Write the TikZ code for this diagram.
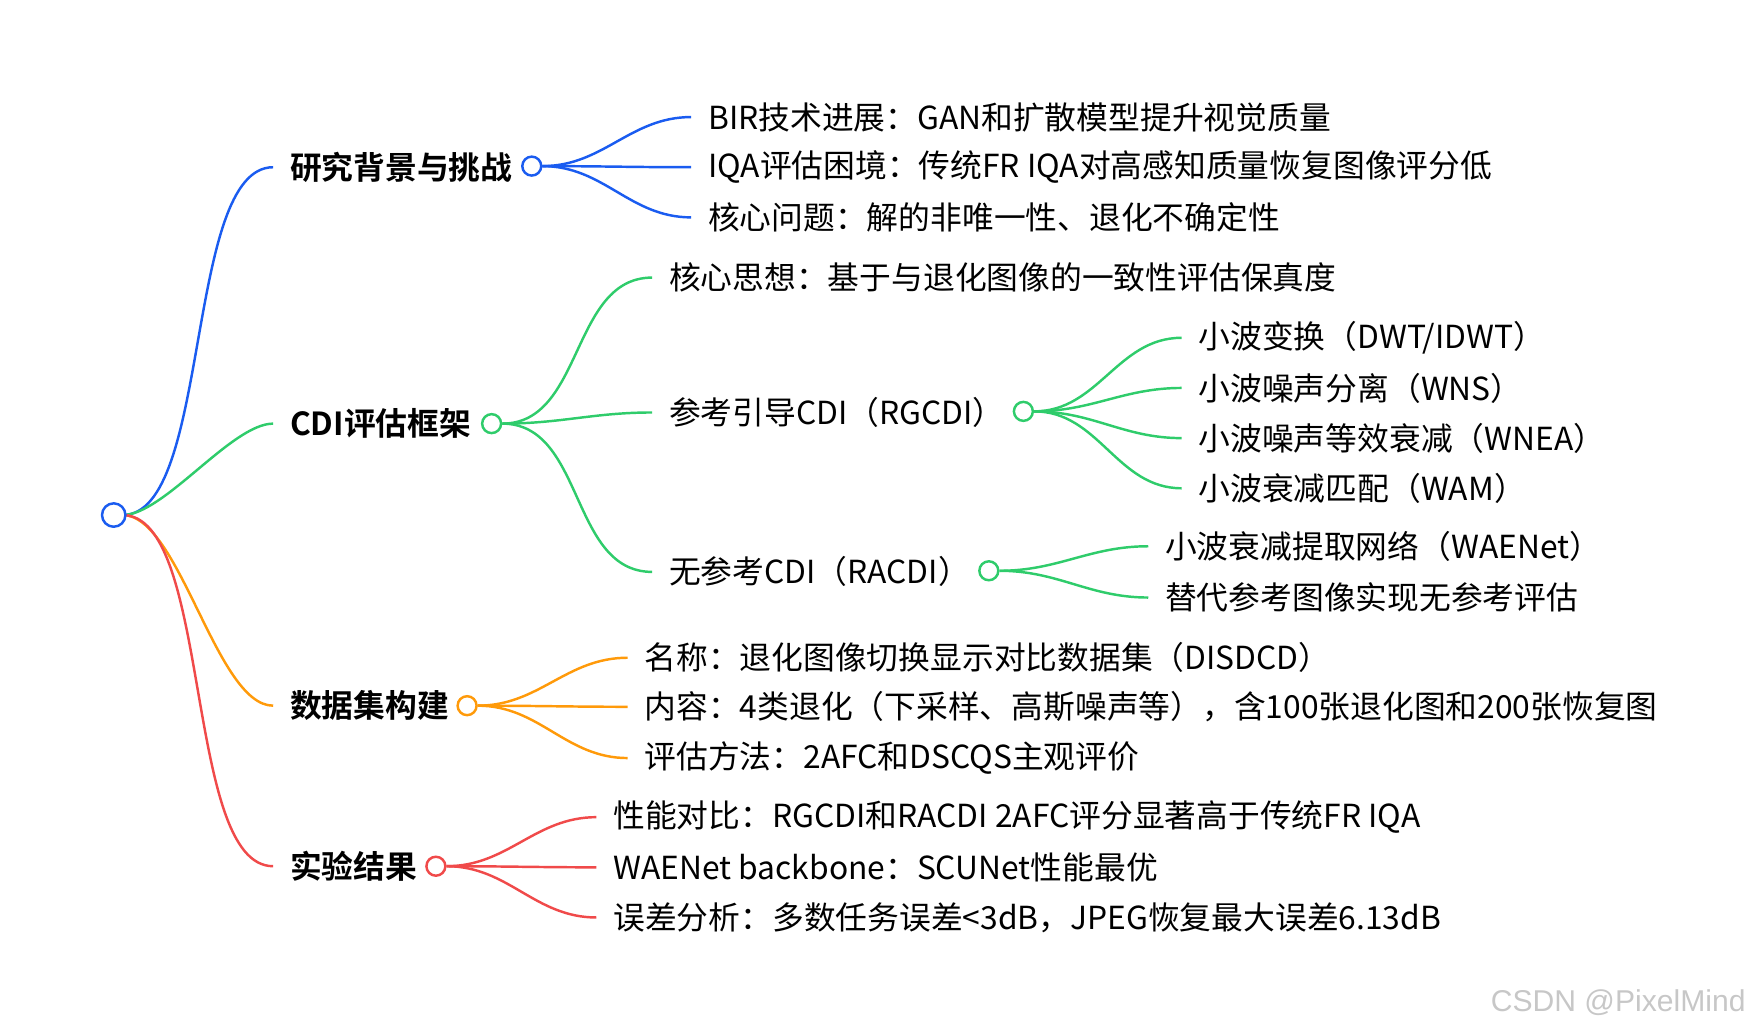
\documentclass[tikz,border=0pt]{standalone}
\usepackage{fontspec}
\setmainfont{Noto Sans CJK SC}[BoldFont=Noto Sans CJK SC Bold]
\newfontfamily\markfont{Liberation Sans}
\definecolor{cblue}{HTML}{1A5CF0}
\definecolor{cgreen}{HTML}{2FCC6B}
\definecolor{corange}{HTML}{FF9A0A}
\definecolor{cred}{HTML}{F04A4A}
\tikzset{
  knot/.style={draw=#1, circle, fill=white, line width=2.2pt, inner sep=0pt, minimum size=17pt},
  leaf/.style={anchor=west, inner xsep=15pt, inner ysep=0pt, font=\fontsize{28.5}{32}\selectfont},
  topic/.style={leaf, font=\fontsize{28.5}{32}\selectfont\bfseries},
  link/.style={line width=2.2pt, out=0, in=180},
  trunk/.style={link, looseness=0.6},
}
\begin{document}
\begin{tikzpicture}[x=1pt, y=-1pt]
  \useasboundingbox (0,0) rectangle (1568,926);
  % first level
  \node (t1) [topic] at (245,150) {研究背景与挑战};
  \node (t2) [topic] at (245,380) {CDI评估框架};
  \node (t3) [topic] at (245,633) {数据集构建};
  \node (t4) [topic] at (245,777) {实验结果};
  \coordinate (hub) at (110,462);
  \draw [trunk, cblue] (hub) to (t1.west);
  \draw [trunk, cgreen] (hub) to (t2.west);
  \draw [trunk, corange] (hub) to (t3.west);
  \draw [trunk, cred] (hub) to (t4.west);
  \node (root) [knot=cblue, minimum size=21pt] at (102,462) {};
  % background
  \node (b1) [leaf] at (620,105) {BIR技术进展：GAN和扩散模型提升视觉质量};
  \node (b2) [leaf] at (620,150) {IQA评估困境：传统FR IQA对高感知质量恢复图像评分低};
  \node (b3) [leaf] at (620,195) {核心问题：解的非唯一性、退化不确定性};
  \node (k1) [knot=cblue] at (477,149) {};
  \foreach \b in {b1,b2,b3}
    \draw [link, cblue] (k1.east) to (\b.west);
  % framework
  \node (f1) [leaf] at (585,249) {核心思想：基于与退化图像的一致性评估保真度};
  \node (f2) [leaf] at (585,370) {参考引导CDI（RGCDI）};
  \node (f3) [leaf] at (585,513) {无参考CDI（RACDI）};
  \node (k2) [knot=cgreen] at (441,380) {};
  \foreach \f in {f1,f2,f3}
    \draw [link, cgreen] (k2.east) to (\f.west);
  \node (g1) [leaf] at (1060,303) {小波变换（DWT/IDWT）};
  \node (g2) [leaf] at (1060,348) {小波噪声分离（WNS）};
  \node (g3) [leaf] at (1060,393) {小波噪声等效衰减（WNEA）};
  \node (g4) [leaf] at (1060,438) {小波衰减匹配（WAM）};
  \node (k5) [knot=cgreen] at (918,369) {};
  \foreach \g in {g1,g2,g3,g4}
    \draw [link, cgreen] (k5.east) to (\g.west);
  \node (r1) [leaf] at (1030,490) {小波衰减提取网络（WAENet）};
  \node (r2) [leaf] at (1030,536) {替代参考图像实现无参考评估};
  \node (k6) [knot=cgreen] at (887,512) {};
  \foreach \r in {r1,r2}
    \draw [link, cgreen] (k6.east) to (\r.west);
  % dataset
  \node (d1) [leaf] at (563,590) {名称：退化图像切换显示对比数据集（DISDCD）};
  \node (d2) [leaf] at (563,634) {内容：4类退化（下采样、高斯噪声等），含100张退化图和200张恢复图};
  \node (d3) [leaf] at (563,680) {评估方法：2AFC和DSCQS主观评价};
  \node (k3) [knot=corange] at (419,633) {};
  \foreach \d in {d1,d2,d3}
    \draw [link, corange] (k3.east) to (\d.west);
  % results
  \node (e1) [leaf] at (535,733) {性能对比：RGCDI和RACDI 2AFC评分显著高于传统FR IQA};
  \node (e2) [leaf] at (535,778) {WAENet backbone：SCUNet性能最优};
  \node (e3) [leaf] at (535,823) {误差分析：多数任务误差<3dB，JPEG恢复最大误差6.13dB};
  \node (k4) [knot=cred] at (391,777) {};
  \foreach \e in {e1,e2,e3}
    \draw [link, cred] (k4.east) to (\e.west);
  \node (mark) [anchor=east, inner sep=2pt, text=black!22, font=\fontsize{27}{30}\selectfont\markfont] at (1568,899) {CSDN @PixelMind};
\end{tikzpicture}
\end{document}
